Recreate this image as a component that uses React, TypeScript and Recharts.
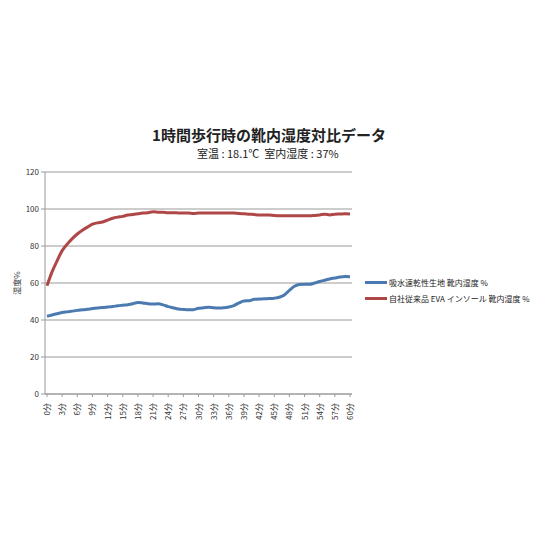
import React from 'react';
import { LineChart, Line, XAxis, YAxis, CartesianGrid, Label } from 'recharts';

const minutes = [
  0, 1, 2, 3, 4, 5, 6, 7, 8, 9, 10, 11, 12, 13, 14, 15, 16, 17, 18, 19, 20,
  21, 22, 23, 24, 25, 26, 27, 28, 29, 30, 31, 32, 33, 34, 35, 36, 37, 38, 39, 40,
  41, 42, 43, 44, 45, 46, 47, 48, 49, 50, 51, 52, 53, 54, 55, 56, 57, 58, 59, 60,
];

// 吸水速乾性生地
const quickDry = [
  42, 42.7, 43.4, 44, 44.4, 44.8, 45.2, 45.5, 45.8, 46.2, 46.5,
  46.7, 47, 47.3, 47.7, 48, 48.3, 48.8, 49.5, 49.2, 48.8,
  48.6, 48.8, 48.2, 47.2, 46.6, 46, 45.7, 45.5, 45.6, 46.3,
  46.6, 46.9, 46.6, 46.5, 46.6, 47, 47.8, 49.2, 50.3, 50.4,
  51.2, 51.3, 51.5, 51.6, 51.8, 52.3, 53.5, 56, 58.2, 59.2,
  59.3, 59.3, 60, 60.8, 61.5, 62.2, 62.7, 63.2, 63.5, 63.4,
];

// 自社従来品 EVA インソール
const evaInsole = [
  58.5, 66, 72, 77.5, 81, 84, 86.5, 88.5, 90.2, 91.8, 92.5,
  93, 94, 95, 95.6, 96, 96.8, 97, 97.4, 97.8, 98,
  98.5, 98.3, 98.2, 98, 98, 97.9, 97.8, 97.9, 97.6, 97.8,
  97.9, 97.9, 97.9, 97.9, 97.9, 97.8, 97.9, 97.6, 97.4, 97.2,
  97, 96.8, 96.8, 96.7, 96.5, 96.4, 96.4, 96.4, 96.4, 96.4,
  96.4, 96.3, 96.5, 96.8, 97.2, 96.8, 97.2, 97.3, 97.4, 97.3,
];

const yTicks = [0, 20, 40, 60, 80, 100, 120];

const seriesNames = ['吸水速乾性生地 靴内湿度 %', '自社従来品 EVA インソール 靴内湿度 %'];
const COLORS = ['#4A7AAF', '#B04747'];

const data = minutes.map((m, i) => ({
  min: `${m}分`,
  a: quickDry[i],
  b: evaInsole[i],
}));

const FONT = '"Noto Sans CJK JP", "Noto Sans", sans-serif';

const XTick = (props: any) => {
  const { x, y, payload } = props;
  return (
    <g transform={`translate(${x},${y + 4})`}>
      <text
        transform="rotate(-90)"
        textAnchor="end"
        dy={3}
        fontSize={8}
        fill="#333"
        fontFamily={FONT}
      >
        {payload.value}
      </text>
    </g>
  );
};

const App = () => {
  return (
    <div style={{ position: 'absolute', left: 0, top: 0, width: 538, height: 538, background: '#fff', fontFamily: FONT }}>
      <div style={{ position: 'absolute', top: 124, left: 0, width: 538, textAlign: 'center', fontSize: 15, fontWeight: 'bold', color: '#222' }}>
        1時間歩行時の靴内湿度対比データ
      </div>
      <div style={{ position: 'absolute', top: 145, left: 197, fontSize: 11, color: '#222', whiteSpace: 'pre' }}>
        {'室温 : 18.1℃  室内湿度 : 37%'}
      </div>
      <LineChart
        width={538}
        height={538}
        data={data}
        margin={{ top: 172, right: 186, bottom: 104, left: 0 }}
      >
        <CartesianGrid vertical={false} stroke="#9a9a9a" />
        <XAxis
          dataKey="min"
          interval={2}
          height={40}
          tick={<XTick />}
          tickSize={3}
          stroke="#9a9a9a"
          padding={{ left: 2, right: 2 }}
        />
        <YAxis
          domain={[0, 120]}
          ticks={yTicks}
          width={45}
          tickSize={4}
          stroke="#9a9a9a"
          tick={{ fontSize: 8, fill: '#333', fontFamily: FONT }}
        >
          <Label
            value="湿度%"
            angle={-90}
            position="insideLeft"
            offset={17}
            style={{ fontSize: 8, fill: '#333', fontFamily: FONT, textAnchor: 'middle' }}
          />
        </YAxis>
        <Line type="monotone" dataKey="a" stroke={COLORS[0]} strokeWidth={3} dot={false} isAnimationActive={false} />
        <Line type="monotone" dataKey="b" stroke={COLORS[1]} strokeWidth={3} dot={false} isAnimationActive={false} />
      </LineChart>
      {seriesNames.map((name, i) => (
        <div
          key={name}
          style={{ position: 'absolute', left: 365, top: 277 + i * 16, display: 'flex', alignItems: 'center', fontSize: 8, color: '#222' }}
        >
          <span style={{ display: 'inline-block', width: 22, height: 3, background: COLORS[i], marginRight: 2 }} />
          {name}
        </div>
      ))}
    </div>
  );
};

export default App;
